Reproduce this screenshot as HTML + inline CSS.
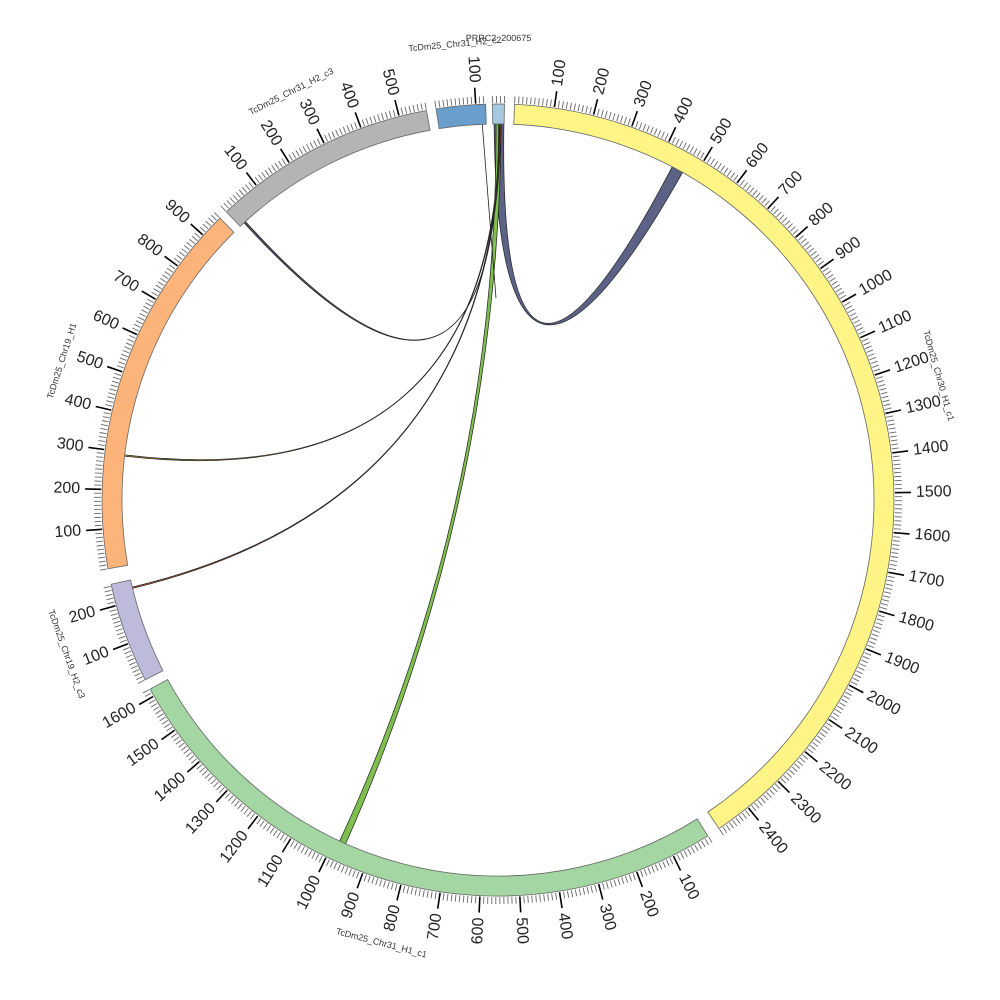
<!DOCTYPE html>
<html><head><meta charset="utf-8"><style>
html,body{margin:0;padding:0;background:#fff;}
svg{display:block;font-family:"Liberation Sans",sans-serif;}
</style></head><body>
<svg id="s" width="1000" height="1000" viewBox="0 0 1000 1000" xmlns="http://www.w3.org/2000/svg"></svg>
<script>
const cx=498,cy=500,R0=376,R1=396,SC=0.0577;
const segs=[
 {n:"TcDm25_Chr30_H1_c1",s:2.4,u:2490,c:"#fff587"},
 {n:"TcDm25_Chr31_H1_c1",s:148,u:1620,c:"#a3d6a2"},
 {n:"TcDm25_Chr19_H2_c3",s:243,u:255,c:"#bdbadb"},
 {n:"TcDm25_Chr19_H1",s:260,u:960,c:"#fdb47b"},
 {n:"TcDm25_Chr31_H2_c3",s:316.7,u:570,c:"#b4b4b4"},
 {n:"TcDm25_Chr31_H2_c2",s:351,u:125,c:"#6a9fcd"},
 {n:"PRRC2_200675",s:359.2,u:30,c:"#a6c8e0"}
];
function P(a,r){const t=(a-90)*Math.PI/180;return [cx+r*Math.cos(t),cy+r*Math.sin(t)];}
function f(p){return p[0].toFixed(2)+","+p[1].toFixed(2);}
let h="";
function ribbon(a1,a2,b1,b2,fill){
 const r=R0;
 return `<path d="M${f(P(a1,r))} A${r},${r} 0 0 1 ${f(P(a2,r))} Q${cx},${cy} ${f(P(b1,r))} A${r},${r} 0 0 1 ${f(P(b2,r))} Q${cx},${cy} ${f(P(a1,r))}Z" fill="${fill}" stroke="#222" stroke-width="0.7"/>`;
}
h+=ribbon(359.4,0.9,27.6,29.4,"#5b6285");
h+=ribbon(359.7,0.5,203.9,204.9,"#7fbf4f");
h+=ribbon(317.5,317.8,0.1,0.2,"#556");
h+=ribbon(276.7,276.9,0.2,0.35,"#c9a33a");
h+=ribbon(256.4,256.6,0.3,0.45,"#d0603a");
h+=`<path d="M${f(P(357.6,R0))} L496,298" stroke="#222" stroke-width="0.8" fill="none"/>`;
for(const g of segs){
 const e=g.s+g.u*SC;const large=(e-g.s)>180?1:0;
 h+=`<path d="M${f(P(g.s,R1))} A${R1},${R1} 0 ${large} 1 ${f(P(e,R1))} L${f(P(e,R0))} A${R0},${R0} 0 ${large} 0 ${f(P(g.s,R0))}Z" fill="${g.c}" stroke="#666" stroke-width="0.8"/>`;
 for(let v=0;v<=g.u;v+=10){
  const a=g.s+v*SC;
  if(v%100==0&&v>0){
   const p1=P(a,R1+1),p2=P(a,R1+17);
   h+=`<line x1="${p1[0].toFixed(2)}" y1="${p1[1].toFixed(2)}" x2="${p2[0].toFixed(2)}" y2="${p2[1].toFixed(2)}" stroke="#000" stroke-width="1.6"/>`;
   const an=((a%360)+360)%360;const q=P(a,R1+22);
   let rot,anc;
   if(an<180){rot=an-90;anc="start";}else{rot=an+90;anc="end";}
   h+=`<text x="${q[0].toFixed(2)}" y="${q[1].toFixed(2)}" font-size="16" fill="#222" text-anchor="${anc}" dominant-baseline="central" transform="rotate(${rot.toFixed(2)} ${q[0].toFixed(2)} ${q[1].toFixed(2)})">${v}</text>`;
  }else{
   const p1=P(a,R1+1),p2=P(a,R1+8);
   h+=`<line x1="${p1[0].toFixed(2)}" y1="${p1[1].toFixed(2)}" x2="${p2[0].toFixed(2)}" y2="${p2[1].toFixed(2)}" stroke="#666" stroke-width="0.9"/>`;
  }
 }
 let m=g.s+g.u*SC/2;const an=((m%360)+360)%360;
 let r=458;if(g.n=="PRRC2_200675"){r=462;}
 const q=P(m,r);let rot=an;if(an>90&&an<270)rot=an+180;
 if(g.n=="TcDm25_Chr30_H1_c1"){rot=an;}
 h+=`<text x="${q[0].toFixed(2)}" y="${q[1].toFixed(2)}" font-size="9" fill="#333" text-anchor="middle" dominant-baseline="central" transform="rotate(${rot.toFixed(2)} ${q[0].toFixed(2)} ${q[1].toFixed(2)})">${g.n}</text>`;
}
document.getElementById("s").innerHTML=h;
</script>
</body></html>
